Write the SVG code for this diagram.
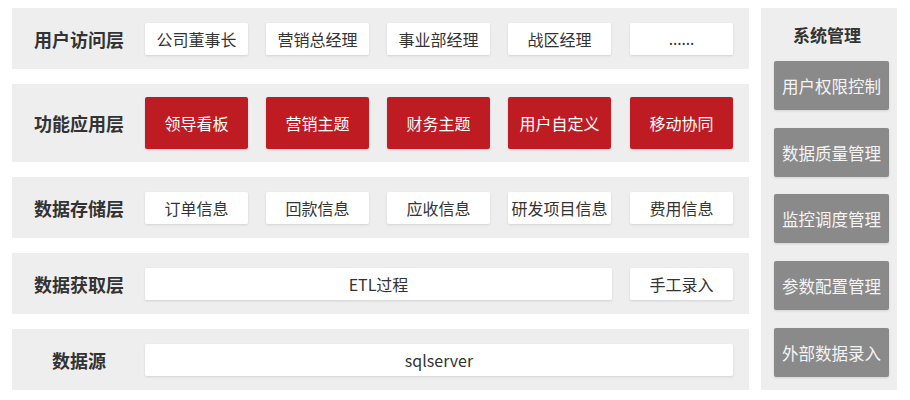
<svg xmlns="http://www.w3.org/2000/svg" width="910" height="400" viewBox="0 0 910 400">
<defs>
<filter id="sh" x="-10%" y="-20%" width="120%" height="150%">
<feDropShadow dx="0" dy="1" stdDeviation="1" flood-color="#000" flood-opacity="0.12"/>
</filter>
</defs>
<style>
text{font-family:"Noto Sans CJK SC","Noto Sans",sans-serif;text-anchor:middle;dominant-baseline:central}
.band{fill:#eeeeef}
.lbl{font-size:18px;font-weight:bold;fill:#333}
.box{fill:#fff;rx:2px;filter:url(#sh)}
.bt{font-size:16px;fill:#333}
.red{fill:#be1e23;rx:2px;filter:url(#sh)}
.rt{font-size:16px;fill:#fff}
.gray{fill:#8a8a8a;rx:2px;filter:url(#sh)}
.gt{font-size:16.5px;fill:#f4f4f4}
</style>
<rect x="0" y="0" width="910" height="400" fill="#fff"/>

<g id="layer-access">
<rect class="band" x="12" y="8" width="737" height="61"/>
<text class="lbl" x="79" y="39">用户访问层</text>
<rect class="box" x="145" y="23" width="103" height="32"/><text class="bt" x="196.5" y="39">公司董事长</text>
<rect class="box" x="266" y="23" width="103" height="32"/><text class="bt" x="317.5" y="39">营销总经理</text>
<rect class="box" x="387" y="23" width="103" height="32"/><text class="bt" x="438.5" y="39">事业部经理</text>
<rect class="box" x="508" y="23" width="103" height="32"/><text class="bt" x="559.5" y="39">战区经理</text>
<rect class="box" x="630" y="23" width="103" height="32"/><text class="bt" x="681.5" y="39" style="font-family:'Noto Sans',sans-serif">......</text>
</g>

<g id="layer-function">
<rect class="band" x="12" y="84" width="737" height="78"/>
<text class="lbl" x="79" y="123">功能应用层</text>
<rect class="red" x="145" y="97" width="103" height="52"/><text class="rt" x="196.5" y="123">领导看板</text>
<rect class="red" x="266" y="97" width="103" height="52"/><text class="rt" x="317.5" y="123">营销主题</text>
<rect class="red" x="387" y="97" width="103" height="52"/><text class="rt" x="438.5" y="123">财务主题</text>
<rect class="red" x="508" y="97" width="103" height="52"/><text class="rt" x="559.5" y="123">用户自定义</text>
<rect class="red" x="630" y="97" width="103" height="52"/><text class="rt" x="681.5" y="123">移动协同</text>
</g>

<g id="layer-storage">
<rect class="band" x="12" y="177" width="737" height="61"/>
<text class="lbl" x="79" y="208">数据存储层</text>
<rect class="box" x="145" y="192" width="103" height="32"/><text class="bt" x="196.5" y="208">订单信息</text>
<rect class="box" x="266" y="192" width="103" height="32"/><text class="bt" x="317.5" y="208">回款信息</text>
<rect class="box" x="387" y="192" width="103" height="32"/><text class="bt" x="438.5" y="208">应收信息</text>
<rect class="box" x="508" y="192" width="103" height="32"/><text class="bt" x="559.5" y="208">研发项目信息</text>
<rect class="box" x="630" y="192" width="103" height="32"/><text class="bt" x="681.5" y="208">费用信息</text>
</g>

<g id="layer-acquire">
<rect class="band" x="12" y="253" width="737" height="61"/>
<text class="lbl" x="79" y="284">数据获取层</text>
<rect class="box" x="145" y="268" width="467" height="32"/><text class="bt" x="378.5" y="284">ETL过程</text>
<rect class="box" x="630" y="268" width="103" height="32"/><text class="bt" x="681.5" y="284">手工录入</text>
</g>

<g id="layer-source">
<rect class="band" x="12" y="329" width="737" height="61"/>
<text class="lbl" x="79" y="360">数据源</text>
<rect class="box" x="145" y="344" width="588" height="32"/><text class="bt" x="439" y="360">sqlserver</text>
</g>

<g id="system-mgmt">
<rect class="band" x="761" y="8" width="136" height="382"/>
<text class="lbl" x="827" y="34" style="font-size:17px">系统管理</text>
<rect class="gray" x="774" y="61" width="115" height="49"/><text class="gt" x="831.5" y="86">用户权限控制</text>
<rect class="gray" x="774" y="128" width="115" height="49"/><text class="gt" x="831.5" y="153">数据质量管理</text>
<rect class="gray" x="774" y="194" width="115" height="49"/><text class="gt" x="831.5" y="219">监控调度管理</text>
<rect class="gray" x="774" y="261" width="115" height="49"/><text class="gt" x="831.5" y="286">参数配置管理</text>
<rect class="gray" x="774" y="328" width="115" height="49"/><text class="gt" x="831.5" y="353">外部数据录入</text>
</g>

<g id="connectors"></g>
</svg>
